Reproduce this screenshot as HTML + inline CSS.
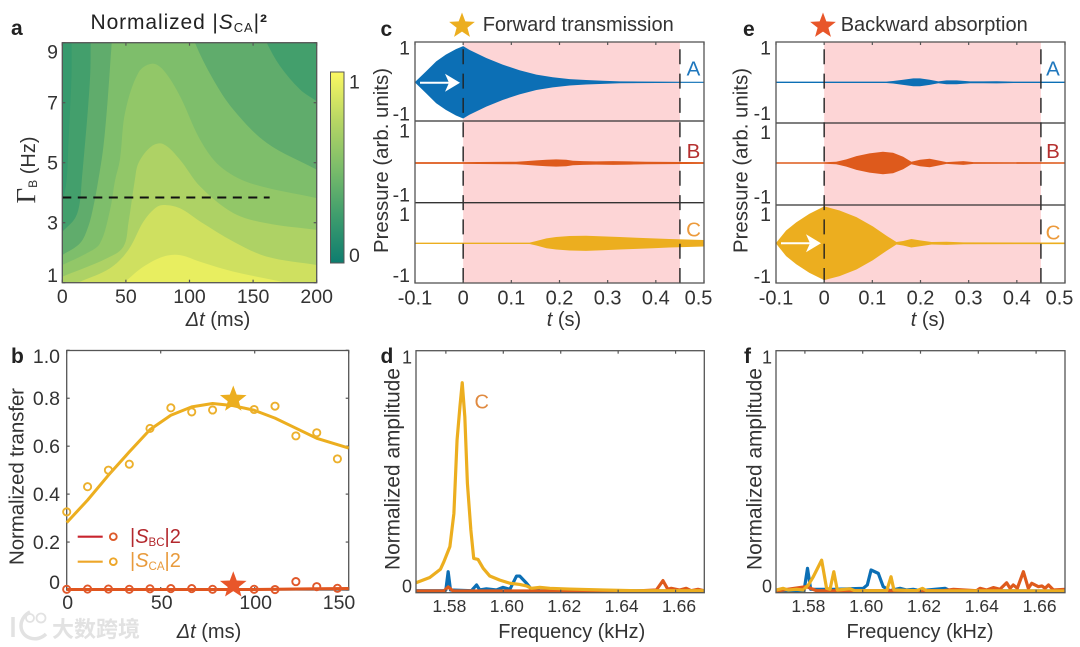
<!DOCTYPE html>
<html lang="en">
<head>
<meta charset="utf-8">
<title>Normalized transfer figure</title>
<style>
html,body{margin:0;padding:0;background:#fff;}
svg{display:block;filter:blur(0.35px);}
text{font-family:"Liberation Sans","Noto Sans CJK SC",sans-serif;fill:#333;}
.tl{font-weight:bold;font-size:21px;fill:#222;}
</style>
</head>
<body>
<svg id="fig" xmlns="http://www.w3.org/2000/svg" width="1080" height="647" viewBox="0 0 1080 647">
<defs>
<linearGradient id="cbGrad" x1="0" y1="1" x2="0" y2="0">
<stop offset="0" stop-color="#0e7d6f"/><stop offset="0.25" stop-color="#3f9d6d"/><stop offset="0.5" stop-color="#7cbd6a"/><stop offset="0.75" stop-color="#b8d664"/><stop offset="1" stop-color="#fbf862"/>
</linearGradient>
<clipPath id="clipA"><rect x="62.3" y="42.7" width="254.4" height="240"/></clipPath>
</defs>
<g id="layer"></g>
<g>
<text class="tl" x="11" y="35">a</text>
<text class="tl" x="11" y="363">b</text>
<text class="tl" x="380.500" y="36">c</text>
<text class="tl" x="380.500" y="363">d</text>
<text class="tl" x="743" y="36">e</text>
<text class="tl" x="744" y="363">f</text>

<text x="90.500" y="29" font-size="21" letter-spacing="0.9" style="fill:#222">Normalized |<tspan font-style="italic">S</tspan><tspan font-size="13" dy="3">CA</tspan><tspan dy="-3">|</tspan><tspan font-weight="bold">²</tspan></text>
<text x="482.700" y="31" font-size="20" textLength="191">Forward transmission</text>
<text x="840.700" y="31" font-size="20" textLength="187">Backward absorption</text>

<text x="218" y="326" text-anchor="middle" font-size="20"><tspan font-style="italic">Δt</tspan> (ms)</text>
<text transform="translate(35,170) rotate(-90)" text-anchor="middle" font-size="20"><tspan font-family="Liberation Serif" font-size="27">Γ</tspan><tspan font-size="12" dy="2">B</tspan><tspan dy="-2"> (Hz)</tspan></text>
<text x="209" y="638" text-anchor="middle" font-size="20"><tspan font-style="italic">Δt</tspan> (ms)</text>
<text transform="translate(23.300,476.500) rotate(-90)" text-anchor="middle" font-size="20.500" textLength="177">Normalized transfer</text>
<text x="564" y="326" text-anchor="middle" font-size="20"><tspan font-style="italic">t</tspan> (s)</text>
<text transform="translate(388,160.500) rotate(-90)" text-anchor="middle" font-size="20.400" textLength="185">Pressure (arb. units)</text>
<text x="928" y="326" text-anchor="middle" font-size="20"><tspan font-style="italic">t</tspan> (s)</text>
<text transform="translate(747.300,160.500) rotate(-90)" text-anchor="middle" font-size="20.400" textLength="185">Pressure (arb. units)</text>
<text x="571.700" y="638" text-anchor="middle" font-size="19.900" textLength="147">Frequency (kHz)</text>
<text transform="translate(399.300,469) rotate(-90)" text-anchor="middle" font-size="20.800" textLength="202">Normalized amplitude</text>
<text x="920" y="638" text-anchor="middle" font-size="19.900" textLength="147">Frequency (kHz)</text>
<text transform="translate(761.700,469) rotate(-90)" text-anchor="middle" font-size="20.800" textLength="202">Normalized amplitude</text>

<text x="130" y="543" font-size="20" style="fill:#b3282d">|<tspan font-style="italic">S</tspan><tspan font-size="11.500" dy="3">BC</tspan><tspan dy="-3">|2</tspan></text>
<text x="130" y="567" font-size="20" style="fill:#e89a3c">|<tspan font-style="italic">S</tspan><tspan font-size="11.500" dy="3">CA</tspan><tspan dy="-3">|2</tspan></text>

<text x="693.500" y="75.500" text-anchor="middle" font-size="20.500" style="fill:#1f77bd">A</text>
<text x="693.500" y="158" text-anchor="middle" font-size="20.500" style="fill:#b5302f">B</text>
<text x="693.500" y="236.500" text-anchor="middle" font-size="20.500" style="fill:#ec9a3b">C</text>
<text x="1053" y="75.500" text-anchor="middle" font-size="20.500" style="fill:#1f77bd">A</text>
<text x="1053" y="158" text-anchor="middle" font-size="20.500" style="fill:#b5302f">B</text>
<text x="1053" y="239.500" text-anchor="middle" font-size="20.500" style="fill:#ec9a3b">C</text>
<text x="481.700" y="408.500" text-anchor="middle" font-size="20" style="fill:#e08a40">C</text>

<g>
<path d="M13 617 L13 637 M30 612 C18 618 18 634 30 638 C36 640 42 638 46 634" fill="none" stroke="#e2e2e2" stroke-width="3.500"/>
<circle cx="30" cy="618" r="4" fill="none" stroke="#e2e2e2" stroke-width="1.800"/>
<circle cx="41" cy="618" r="4.500" fill="none" stroke="#e2e2e2" stroke-width="1.800"/>
<text x="52" y="637" font-size="22" textLength="88" style="fill:#e2e2e2;font-family:'Noto Sans CJK SC',sans-serif;font-weight:bold">大数跨境</text>
</g>
</g>
</svg>
<script>
// ---------- panel a: contour levels as [delta-t ms, Gamma Hz] ----------
const contourColors = ["#439f6c","#60ac6c","#7ebe6b","#92c768","#aed265","#cfe060","#e8ee60"];
const contour1 = [[0,3.6],[3.4,4.42],[4.7,5.55],[6.5,7.1],[7.3,8],[7.3,9],[7.3,10],[200,10]];
const contour2 = [[0,2.7],[10,3.15],[13.7,3.66],[15.3,4.42],[19.7,6.55],[22,8],[22.3,9],[22.5,10],[150,10],[160.7,9],[171.2,8.22],[186.9,7.44],[200,7.05]];
const contour3 = [[0,1.92],[14,2.32],[20.4,2.87],[24.4,3.53],[28.3,4.42],[32.2,5.5],[35.5,7],[38,8.5],[38.8,9],[39.5,10],[97,10],[104.3,9],[118.7,7.77],[134.5,6.77],[160.7,5.66],[200,4.77]];
const contour4 = [[0,1.59],[19.2,1.98],[29.6,2.31],[37.5,3.42],[41.5,4.42],[45.3,5.1],[49.3,6.66],[59.8,8.0],[70.2,8.3],[79.4,8.09],[92.5,7.22],[108.3,5.77],[124,4.88],[147.6,4.32],[200,3.82]];
const contour5 = [[0,1.2],[34.9,1.81],[48,2.2],[52,3.0],[57,4.42],[60,5],[70.2,5.55],[79.4,5.62],[92.5,5.1],[108.3,4.21],[134.5,3.32],[160.7,2.98],[200,2.76]];
const contour6 = [[13.9,1.03],[37.5,1.48],[51.9,2.09],[63.7,3.03],[72.9,3.48],[79.4,3.59],[92.5,3.48],[108.3,3.04],[134.5,2.37],[160.7,1.87],[200,1.59]];
const contour7 = [[49.3,1.03],[63.7,1.53],[79.4,1.87],[92.5,1.92],[108.3,1.7],[134.5,1.37],[176.4,1]];
const aXTicks = [0,50,100,150,200];
const aYTicks = [1,3,5,7,9];
const dashGamma = 3.84;
const dashEnd = 163;
const colorbarTicks = [0,1];

// ---------- panel b ----------
const bTimes = [0,11.1,22.2,33.3,44.3,55.4,66.5,77.6,99.7,110.8,121.9,133,144];
const bScaPoints = [0.326,0.431,0.5,0.525,0.674,0.76,0.743,0.751,0.753,0.767,0.643,0.656,0.547];
const bSbcPoints = [0.003,0.004,0.004,0.003,0.005,0.006,0.006,0.003,0.003,0.002,0.035,0.014,0.007];
const bFitTimes = [0,11.1,22.2,33.3,44.3,55.4,66.5,77.6,88.6,99.7,110.8,121.9,133,150];
const bScaFit = [0.281,0.375,0.479,0.576,0.669,0.729,0.764,0.778,0.769,0.75,0.717,0.675,0.633,0.592];
const bSbcFit = [0.002,0.002,0.002,0.002,0.002,0.002,0.002,0.002,0.002,0.002,0.003,0.004,0.005,0.006];
const bStarTime = 88.6;
const bStarSca = 0.795;
const bStarSbc = 0.02;
const bXTicks = [0,50,100,150];
const bYTicks = [0,0.2,0.4,0.6,0.8,1.0];
const bYTickLabels = ["0","0.2","0.4","0.6","0.8","1.0"];

// ---------- panels c, e: waveform envelopes ----------
const tTicks = [-0.1,0,0.1,0.2,0.3,0.4,0.5];
const tTickLabels = ["-0.1","0","0.1","0.2","0.3","0.4","0.5"];
const pressureTicks = [1,-1];
const windowStart = 0;
const windowEnd = 0.45;
const cTimeA = [-0.1,-0.077,-0.056,-0.036,-0.015,0,0.013,0.048,0.082,0.117,0.152,0.186,0.221,0.255,0.29,0.325,0.45,0.5];
const cEnvA = [0,0.29,0.56,0.74,0.89,0.97,0.87,0.65,0.47,0.32,0.2,0.13,0.08,0.054,0.036,0.018,0.009,0.009];
const cTimeB = [-0.1,0,0.11,0.131,0.152,0.173,0.193,0.214,0.228,0.249,0.276,0.311,0.346,0.38,0.5];
const cEnvB = [0.018,0.018,0.027,0.045,0.063,0.081,0.09,0.081,0.054,0.045,0.036,0.045,0.036,0.027,0.018];
const cTimeC = [-0.1,0.138,0.152,0.173,0.193,0.221,0.255,0.29,0.325,0.36,0.394,0.428,0.5];
const cEnvC = [0.012,0.012,0.054,0.126,0.162,0.189,0.198,0.18,0.162,0.144,0.126,0.108,0.081];
const eTimeA = [-0.1,0.129,0.143,0.164,0.185,0.199,0.219,0.237,0.254,0.275,0.303,0.331,0.358,0.393,0.5];
const eEnvA = [0.012,0.012,0.027,0.063,0.1,0.1,0.063,0.018,0.045,0.045,0.018,0.018,0.022,0.012,0.012];
const eTimeB = [-0.1,0,0.025,0.046,0.067,0.094,0.122,0.143,0.164,0.181,0.199,0.219,0.24,0.254,0.289,0.31,0.5];
const eEnvB = [0.012,0.014,0.027,0.09,0.18,0.252,0.297,0.27,0.162,0.027,0.081,0.108,0.054,0.018,0.045,0.018,0.012];
const eTimeC = [-0.1,-0.079,-0.058,-0.031,0,0.032,0.067,0.101,0.129,0.15,0.164,0.181,0.199,0.223,0.254,0.289,0.5];
const eEnvC = [0,0.34,0.56,0.79,0.99,0.88,0.7,0.45,0.2,0.027,0.054,0.108,0.072,0.027,0.036,0.018,0.015];

// ---------- panels d, f: spectra ----------
const fTicks = [1.58,1.60,1.62,1.64,1.66];
const fTickLabels = ["1.58","1.60","1.62","1.64","1.66"];
const ampTicks = [0,1];
const dFreqC = [1.5696,1.5744,1.5781,1.5793,1.5814,1.5828,1.5839,1.5849,1.5857,1.5866,1.5875,1.5887,1.5897,1.5912,1.593,1.5953,1.5988,1.6023,1.6057,1.6081,1.6098,1.6127,1.6162,1.6231,1.6347,1.6463,1.6699];
const dAmpC = [0.037,0.059,0.093,0.124,0.187,0.325,0.629,0.768,0.867,0.726,0.45,0.256,0.138,0.134,0.097,0.065,0.048,0.035,0.03,0.024,0.014,0.018,0.014,0.011,0.007,0.004,0.004];
const dFreqA = [1.5696,1.5793,1.58,1.5808,1.5816,1.5889,1.5907,1.5918,1.5941,1.5976,1.5999,1.6023,1.6046,1.6057,1.6081,1.6098,1.6127,1.6699];
const dAmpA = [0.004,0.004,0.007,0.083,0.007,0.004,0.028,0.007,0.012,0.007,0.018,0.01,0.065,0.065,0.035,0.01,0.004,0.003];
const dFreqB = [1.5696,1.5793,1.5808,1.5825,1.6463,1.6533,1.6556,1.6573,1.6585,1.6614,1.6637,1.6654,1.6678,1.6699];
const dAmpB = [0.003,0.003,0.02,0.003,0.003,0.007,0.046,0.01,0.014,0.007,0.014,0.004,0.01,0.004];
const fFreqC = [1.57,1.5725,1.5742,1.5771,1.5794,1.5812,1.5829,1.5858,1.5875,1.5887,1.59,1.5912,1.5956,1.5973,1.6083,1.6098,1.6108,1.6187,1.6207,1.6221,1.67];
const fAmpC = [0.007,0.014,0.007,0.01,0.007,0.028,0.062,0.131,0.014,0.01,0.083,0.007,0.012,0.004,0.004,0.062,0.007,0.004,0.014,0.004,0.003];
const fFreqA = [1.57,1.5797,1.5809,1.582,1.5898,1.6002,1.6016,1.6029,1.6054,1.6071,1.6094,1.6129,1.6152,1.6175,1.6198,1.6285,1.6302,1.67];
const fAmpA = [0.003,0.004,0.097,0.01,0.01,0.014,0.028,0.09,0.076,0.021,0.004,0.014,0.007,0.01,0.004,0.014,0.004,0.003];
const fFreqB = [1.57,1.5806,1.584,1.6279,1.6314,1.6394,1.6406,1.6429,1.6452,1.6475,1.6498,1.651,1.6521,1.6535,1.6556,1.6573,1.6585,1.6608,1.662,1.6631,1.6643,1.666,1.67];
const fAmpB = [0.003,0.021,0.004,0.004,0.01,0.004,0.014,0.007,0.017,0.01,0.037,0.014,0.028,0.014,0.083,0.014,0.035,0.021,0.024,0.014,0.028,0.007,0.01];

const BLUE = "#0c6fb5", ORANGE = "#de5a1c", YELLOW = "#ecae1f";
const layer = document.getElementById("layer");
const NS = "http://www.w3.org/2000/svg";

function el(tag, attrs, parent) {
  const e = document.createElementNS(NS, tag);
  for (const k in attrs) e.setAttribute(k, attrs[k]);
  (parent || layer).appendChild(e);
  return e;
}
function scale(d0, d1, r0, r1) {
  return v => r0 + (v - d0) * (r1 - r0) / (d1 - d0);
}
function clamp(v, a, b) { return Math.max(a, Math.min(b, v)); }
function linePath(xs, ys, sx, sy) {
  return xs.map((x, i) => (i ? "L" : "M") + sx(x).toFixed(2) + " " + sy(ys[i]).toFixed(2)).join(" ");
}
function smoothPath(pts) {
  let d = "M" + pts[0][0].toFixed(2) + " " + pts[0][1].toFixed(2);
  const dirAt = i => {
    const a = pts[Math.max(0, i - 1)], b = pts[Math.min(pts.length - 1, i + 1)];
    const dx = b[0] - a[0], dy = b[1] - a[1], n = Math.hypot(dx, dy) || 1;
    return [dx / n, dy / n];
  };
  for (let i = 0; i < pts.length - 1; i++) {
    const p = pts[i], q = pts[i + 1], len = Math.hypot(q[0] - p[0], q[1] - p[1]) / 3;
    const u = dirAt(i), v = dirAt(i + 1);
    d += " C" + (p[0] + u[0] * len).toFixed(2) + " " + (p[1] + u[1] * len).toFixed(2) + " " +
      (q[0] - v[0] * len).toFixed(2) + " " + (q[1] - v[1] * len).toFixed(2) + " " +
      q[0].toFixed(2) + " " + q[1].toFixed(2);
  }
  return d;
}
function starPoints(cx, cy, R) {
  const pts = [];
  for (let i = 0; i < 10; i++) {
    const r = i % 2 ? R * 0.42 : R;
    const a = -Math.PI / 2 + i * Math.PI / 5;
    pts.push((cx + r * Math.cos(a)).toFixed(2) + "," + (cy + r * Math.sin(a)).toFixed(2));
  }
  return pts.join(" ");
}
function drawStar(cx, cy, R, color, name) {
  const s = el("polygon", { points: starPoints(cx, cy, R), fill: color });
  
  
}
function drawBox(x0, y0, x1, y1, name) {
  const r = el("rect", { x: x0, y: y0, width: x1 - x0, height: y1 - y0, fill: "none", stroke: "#555", "stroke-width": 1.3 });
  
  
}
function drawTick(x1, y1, x2, y2) {
  const t = el("line", { x1, y1, x2, y2, stroke: "#555", "stroke-width": 1.2 });
  
  
}
function drawLabel(x, y, str, size, anchor) {
  const t = el("text", { x, y, "font-size": size, "text-anchor": anchor });
  t.textContent = str;
  
  
}

// ---------- panel a ----------
const ax = scale(0, 200, 62.3, 316.7);
const ay = scale(1, 9, 282.7, 42.7);
const base = el("rect", { x: 62.3, y: 42.7, width: 254.4, height: 240, fill: "#369a6d" });


[contour1, contour2, contour3, contour4, contour5, contour6, contour7].forEach((c, i) => {
  const px = c.map(q => [ax(q[0]), ay(q[1])]);
  const d = smoothPath(px) + " L" + ax(200) + " " + ay(1) + " L" + ax(0) + " " + ay(1) + " Z";
  const p = el("path", { d: d, fill: contourColors[i], "clip-path": "url(#clipA)" });
  
  
});
const dash = el("line", { x1: ax(0), x2: ax(dashEnd), y1: ay(dashGamma), y2: ay(dashGamma), stroke: "#111", "stroke-width": 2, "stroke-dasharray": "9 6.500" });


drawBox(62.3, 42.7, 316.7, 282.7, 'a-plot-frame');
aXTicks.forEach(v => {
  drawTick(ax(v), 282.7, ax(v), 279.7);
  drawTick(ax(v), 42.7, ax(v), 45.7);
  drawLabel(ax(v), 303, String(v), 19.5, "middle");
});
aYTicks.forEach(v => {
  drawTick(62.3, ay(v), 65.3, ay(v));
  drawTick(316.7, ay(v), 313.7, ay(v));
  drawLabel(58, clamp(ay(v), 51.7, 275) + 7, String(v), 19.5, "end");
});
const cb = el("rect", { x: 330.5, y: 72, width: 13.5, height: 191, fill: "url(#cbGrad)", stroke: "#555", "stroke-width": 1 });


const cbY = scale(0, 1, 255, 81.7);
colorbarTicks.forEach(v => drawLabel(349, cbY(v) + 7, String(v), 19.5, "start"));

// ---------- panel b ----------
const bx = scale(0, 150, 66.7, 348.7);
const by = scale(0, 1, 590, 350.3);
drawBox(66.7, 350.5, 348.7, 590, 'b-plot-frame');
bXTicks.forEach(v => {
  drawTick(bx(v), 590, bx(v), 587);
  drawTick(bx(v), 350.5, bx(v), 353.5);
  drawLabel(Math.min(bx(v), 338) + 1, 609, String(v), 19.5, "middle");
});
bYTicks.forEach((v, i) => {
  drawTick(66.7, by(v), 69.7, by(v));
  drawTick(348.7, by(v), 345.7, by(v));
  drawLabel(60, clamp(by(v), 356, 582) + 7, bYTickLabels[i], 19.5, "end");
});
const fitSca = el("path", { d: linePath(bFitTimes, bScaFit, bx, by), fill: "none", stroke: YELLOW, "stroke-width": 3, "stroke-linejoin": "round" });


const fitSbc = el("path", { d: linePath(bFitTimes, bSbcFit, bx, by), fill: "none", stroke: "#e0561f", "stroke-width": 3 });


bTimes.forEach((t, i) => {
  const c1 = el("circle", { cx: bx(t), cy: by(bScaPoints[i]), r: 3.6, fill: "none", stroke: "#ecb02c", "stroke-width": 1.9 });
  
  
  const c2 = el("circle", { cx: bx(t), cy: by(bSbcPoints[i]), r: 3.6, fill: "none", stroke: "#e0582a", "stroke-width": 1.9 });
  
  
});
drawStar(bx(bStarTime), by(bStarSca), 14, YELLOW, 'sca-max-star');
drawStar(bx(bStarTime), by(bStarSbc), 14, "#e8562a", 'sbc-star');
[["#c8242e", 536.7, "#dd5a2a", 'sbc'], ["#eda629", 561.7, "#eda629", 'sca']].forEach(d => {
  const l = el("line", { x1: 77.7, x2: 102.7, y1: d[1], y2: d[1], stroke: d[0], "stroke-width": 2.2 });
  
  
  const c = el("circle", { cx: 113.3, cy: d[1], r: 3.4, fill: "none", stroke: d[2], "stroke-width": 1.9 });
  
  
});

// ---------- panels c, e ----------
function wavePanel(x0, x1, div1, div2, series, arrowCenter, prefix) {
  const tx = scale(-0.1, 0.5, x0, x1);
  const top = 42, bot = 283;
  const pink = el("rect", { x: tx(windowStart), y: top, width: tx(windowEnd) - tx(windowStart), height: bot - top, fill: "#fdd5d6" });
  
  
  series.forEach(s => {
    const upper = s.t.map((t, i) => tx(t).toFixed(2) + "," + (s.c - s.a[i] * 37 - 0.25).toFixed(2));
    const lower = s.t.map((t, i) => tx(t).toFixed(2) + "," + (s.c + s.a[i] * 37 + 0.25).toFixed(2)).reverse();
    const w = el("polygon", { points: upper.concat(lower).join(" "), fill: s.color });
    
    
    pressureTicks.forEach((v, k) => {
      drawLabel(x0 - 5, s.l[k] + 7, String(v), 19.5, "end");
    });
  });
  [windowStart, windowEnd].forEach(t => {
    const d = el("line", { x1: tx(t), x2: tx(t), y1: top, y2: bot, stroke: "#222", "stroke-width": 1.4, "stroke-dasharray": "15 9.300", "stroke-dashoffset": "17" });
    
    
  });
  [div1, div2].forEach(y => {
    const d = el("line", { x1: x0, x2: x1, y1: y, y2: y, stroke: "#333", "stroke-width": 1.3 });
    
    
  });
  drawBox(x0, top, x1, bot, prefix + '-plot-frame');
  tTicks.forEach((v, i) => {
    drawTick(tx(v), bot, tx(v), bot - 3);
    drawTick(tx(v), top, tx(v), top + 3);
    drawLabel(Math.min(tx(v), x1 - 5.5), 304.5, tTickLabels[i], 20, "middle");
  });
  const a1 = el("line", { x1: x0 + 5, x2: x0 + 38, y1: arrowCenter, y2: arrowCenter, stroke: "#fff", "stroke-width": 2 });
  
  
  const a2 = el("polygon", { points: [x0 + 30, arrowCenter - 9, x0 + 45, arrowCenter, x0 + 30, arrowCenter + 9, x0 + 34, arrowCenter].join(" "), fill: "#fff" });
  
  
}
wavePanel(415, 704, 121, 202.7, [
  { t: cTimeA, a: cEnvA, c: 82.3, color: BLUE, l: [47.7, 113.3] },
  { t: cTimeB, a: cEnvB, c: 163, color: ORANGE, l: [130.7, 194.3] },
  { t: cTimeC, a: cEnvC, c: 243.3, color: YELLOW, l: [214, 275] }
], 82.7, 'c');
wavePanel(776, 1065, 123, 205, [
  { t: eTimeA, a: eEnvA, c: 82.3, color: BLUE, l: [47.7, 113] },
  { t: eTimeB, a: eEnvB, c: 163, color: ORANGE, l: [132, 196.7] },
  { t: eTimeC, a: eEnvC, c: 243.3, color: YELLOW, l: [214, 276] }
], 243.3, 'e');
drawStar(462, 26, 13.5, YELLOW, 'forward-title-star');
drawStar(823, 26, 13.5, "#e8562a", 'backward-title-star');

// ---------- panels d, f ----------
function specPanel(x0, x1, fmin, fmax, lines, prefix) {
  const fx = scale(fmin, fmax, x0, x1);
  const fy = scale(0, 1, 591.7, 350.7);
  lines.forEach(s => {
    const p = el("path", { d: linePath(s.f, s.a, fx, fy), fill: "none", stroke: s.color, "stroke-width": 3.2, "stroke-linejoin": "round" });
    
    
  });
  drawBox(x0, 350.7, x1, 592.7, prefix + '-plot-frame');
  fTicks.forEach((v, i) => {
    drawTick(fx(v), 350.7, fx(v), 353.7);
    drawTick(fx(v), 592.7, fx(v), 589.7);
    drawLabel(fx(v) + 3.5, 612, fTickLabels[i], 17.5, "middle");
  });
  ampTicks.forEach(v => {
    drawLabel(x0 - 4, clamp(fy(v), 357, 586) + 6.5, String(v), 18, "end");
  });
}
specPanel(416, 704.3, 1.5696, 1.67, [
  { f: dFreqA, a: dAmpA, color: BLUE },
  { f: dFreqB, a: dAmpB, color: ORANGE },
  { f: dFreqC, a: dAmpC, color: YELLOW }
], 'd');
specPanel(776, 1065, 1.57, 1.67, [
  { f: fFreqA, a: fAmpA, color: BLUE },
  { f: fFreqB, a: fAmpB, color: ORANGE },
  { f: fFreqC, a: fAmpC, color: YELLOW }
], 'f');
</script>
</body>
</html>
